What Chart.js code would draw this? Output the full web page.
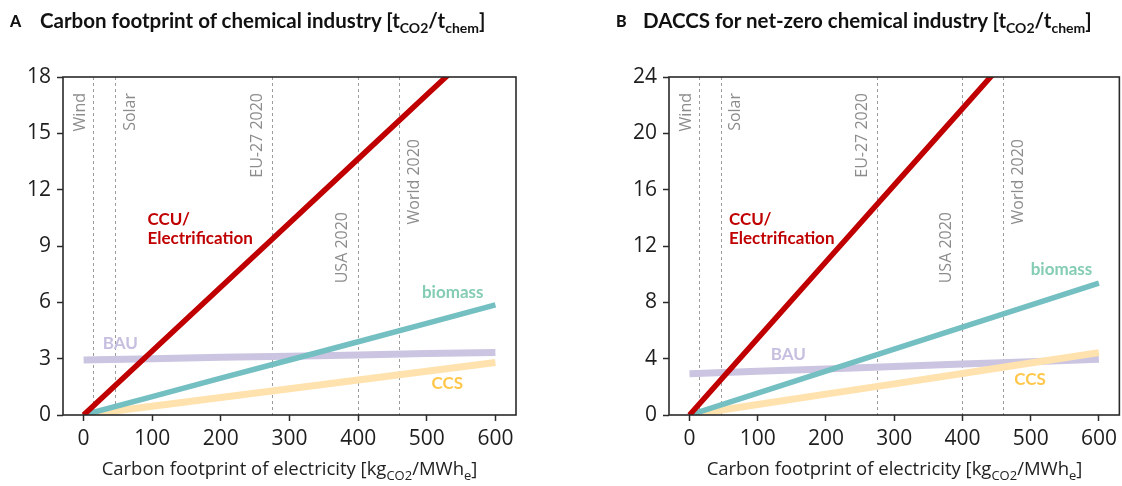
<!DOCTYPE html>
<html>
<head>
<meta charset="utf-8">
<script src="https://cdn.jsdelivr.net/npm/chart.js@4.4.1/dist/chart.umd.min.js"></script>
<style>
  html,body{margin:0;padding:0;background:#fff;}
  #wrap{position:relative;width:1122px;height:486px;overflow:hidden;}
  canvas{position:absolute;top:0;}
  .ttl{position:absolute;font-family:Lato,sans-serif;font-weight:700;font-size:20.5px;line-height:20px;color:#111;white-space:nowrap;}
  .ttl .sub{font-size:14px;position:relative;top:5px;}
  .letter{position:absolute;font-family:Lato,sans-serif;font-weight:900;font-size:16px;line-height:16px;color:#111;}
  .xt{position:absolute;font-family:"Open Sans",sans-serif;font-size:18.5px;line-height:18px;color:#222;text-align:center;white-space:nowrap;}
  .xt .sub{font-size:13px;position:relative;top:5px;}
</style>
</head>
<body>
<div id="wrap">
  <canvas id="cA" width="561" height="486" style="left:0;width:561px;height:486px"></canvas>
  <canvas id="cB" width="561" height="486" style="left:561px;width:561px;height:486px"></canvas>
  <div class="letter" style="left:10px;top:13px">A</div>
  <div class="ttl" style="left:40px;top:10px">Carbon footprint of chemical industry [t<span class="sub">CO2</span>/t<span class="sub">chem</span>]</div>
  <div class="letter" style="left:616px;top:13px">B</div>
  <div class="ttl" style="left:643px;top:10px">DACCS for net-zero chemical industry [t<span class="sub">CO2</span>/t<span class="sub">chem</span>]</div>
  <div class="xt" style="left:63px;width:453px;top:459px">Carbon footprint of electricity [kg<span class="sub">CO2</span>/MWh<span class="sub">e</span>]</div>
  <div class="xt" style="left:669px;width:451px;top:459px">Carbon footprint of electricity [kg<span class="sub">CO2</span>/MWh<span class="sub">e</span>]</div>
</div>
<script>
// ---------- data ----------
const xValues = [0, 100, 200, 300, 400, 500, 600];
const xTicks = [0, 100, 200, 300, 400, 500, 600];

// Panel A: carbon footprint of chemical industry [tCO2/tchem]
const ccuA     = [0, 3.41, 6.82, 10.23, 13.64, 17.05, 20.46];
const biomassA = [0, 0.98, 1.96, 2.93, 3.90, 4.88, 5.86];
const bauA     = [2.93, 3.00, 3.07, 3.13, 3.20, 3.27, 3.33];
const ccsA     = [0, 0.47, 0.93, 1.40, 1.86, 2.33, 2.80];
const yTicksA  = [0, 3, 6, 9, 12, 15, 18];

// Panel B: DACCS for net-zero chemical industry [tCO2/tchem]
const ccuB     = [0, 5.44, 10.88, 16.32, 21.76, 27.20, 32.64];
const biomassB = [0, 1.56, 3.12, 4.68, 6.24, 7.80, 9.36];
const bauB     = [2.93, 3.10, 3.27, 3.45, 3.62, 3.78, 3.95];
const ccsB     = [0, 0.74, 1.48, 2.21, 2.95, 3.69, 4.43];
const yTicksB  = [0, 4, 8, 12, 16, 20, 24];

// reference electricity footprints [kgCO2/MWhe]
const refNames  = ['Wind', 'Solar', 'EU-27 2020', 'USA 2020', 'World 2020'];
const refValues = [14, 46, 275, 400, 459];

// ---------- styles ----------
const refStyle = [
  {dx: -13, top: 16}, {dx: 15, top: 16}, {dx: -14.5, top: 16},
  {dx: -16, top: 135}, {dx: 16, top: 62}
];
const seriesStyle = {
  ccu:     {line: '#c00000', text: '#c00000', width: 5.5},
  biomass: {line: '#73bfc1', text: '#84ccb4', width: 5.5},
  bau:     {line: '#cbc5e2', text: '#c6bfe0', width: 7},
  ccs:     {line: '#ffe2ae', text: '#ffc84c', width: 7}
};

function pts(ys){ return xValues.map((x,i)=>({x:x, y:ys[i]})); }

const decor = {
  id: 'decor',
  beforeDatasetsDraw(chart){
    const {ctx, chartArea:a, scales:{x}} = chart;
    ctx.save();
    ctx.strokeStyle = '#9c9c9c'; ctx.lineWidth = 1; ctx.setLineDash([3,3]);
    refValues.forEach(v=>{
      const px = Math.round(x.getPixelForValue(v)) + 0.5;
      ctx.beginPath(); ctx.moveTo(px, a.top); ctx.lineTo(px, a.bottom); ctx.stroke();
    });
    ctx.setLineDash([]);
    ctx.fillStyle = '#8c8c8c'; ctx.font = '16px "Open Sans"';
    refValues.forEach((v,i)=>{
      const px = x.getPixelForValue(v) + refStyle[i].dx;
      ctx.save();
      ctx.translate(px, a.top + refStyle[i].top);
      ctx.rotate(-Math.PI/2);
      ctx.textAlign = 'right'; ctx.textBaseline = 'middle';
      ctx.fillText(refNames[i], 0, 0);
      ctx.restore();
    });
    ctx.restore();
  },
  afterDatasetsDraw(chart, args, opts){
    const {ctx, chartArea:a, scales:{x,y}} = chart;
    ctx.save();
    ctx.font = 'bold 17px Lato';
    ctx.textAlign = 'left'; ctx.textBaseline = 'alphabetic';
    (opts.labels||[]).forEach(l=>{
      ctx.fillStyle = l.color;
      ctx.fillText(l.text, x.getPixelForValue(l.x), y.getPixelForValue(l.y));
    });
    ctx.strokeStyle = '#2a2a2a'; ctx.lineWidth = 1.6;
    ctx.strokeRect(a.left, a.top, a.right - a.left, a.bottom - a.top);
    ctx.restore();
  }
};

function makeChart(id, series, yTicks, yMax, padRight, yWidth, labels){
  const mk = (key, data) => ({
    label: key, data: pts(data), borderColor: seriesStyle[key].line,
    borderWidth: seriesStyle[key].width, pointRadius: 0, tension: 0, fill: false
  });
  return new Chart(document.getElementById(id), {
    type: 'line',
    data: { datasets: [mk('ccu', series.ccu), mk('biomass', series.biomass), mk('ccs', series.ccs), mk('bau', series.bau)] },
    options: {
      responsive: false, animation: false, devicePixelRatio: 1,
      layout: { padding: {left: 0, right: padRight, top: 77, bottom: 0} },
      plugins: { legend: {display:false}, tooltip: {enabled:false}, decor: {labels: labels} },
      scales: {
        x: {
          type: 'linear', min: -30, max: 630,
          afterBuildTicks: s => { s.ticks = xTicks.map(v=>({value:v})); },
          afterFit: s => { s.height = 71; },
          grid: { display: true, drawOnChartArea: false, tickLength: 6, tickColor: '#2a2a2a', tickWidth: 1.5 },
          border: { display: false },
          ticks: { font: {family: 'Open Sans', size: 21}, color: '#1e1e1e', padding: 5, maxRotation: 0 }
        },
        y: {
          type: 'linear', min: 0, max: yMax,
          afterBuildTicks: s => { s.ticks = yTicks.map(v=>({value:v})); },
          afterFit: s => { s.width = yWidth; },
          grid: { display: true, drawOnChartArea: false, tickLength: 6, tickColor: '#2a2a2a', tickWidth: 1.5 },
          border: { display: false },
          ticks: { font: {family: 'Open Sans', size: 21}, color: '#1e1e1e', padding: 6 }
        }
      }
    },
    plugins: [decor]
  });
}

makeChart('cA', {ccu: ccuA, biomass: biomassA, bau: bauA, ccs: ccsA}, yTicksA, 18, 45, 63, [
  {text: 'CCU/', x: 93, y: 10.1, color: seriesStyle.ccu.text},
  {text: 'Electrification', x: 93, y: 9.1, color: seriesStyle.ccu.text},
  {text: 'biomass', x: 493, y: 6.25, color: seriesStyle.biomass.text},
  {text: 'BAU', x: 28, y: 3.52, color: seriesStyle.bau.text},
  {text: 'CCS', x: 507, y: 1.4, color: seriesStyle.ccs.text}
]);
makeChart('cB', {ccu: ccuB, biomass: biomassB, bau: bauB, ccs: ccsB}, yTicksB, 24, 2, 108, [
  {text: 'CCU/', x: 58, y: 13.5, color: seriesStyle.ccu.text},
  {text: 'Electrification', x: 58, y: 12.15, color: seriesStyle.ccu.text},
  {text: 'biomass', x: 500, y: 9.95, color: seriesStyle.biomass.text},
  {text: 'BAU', x: 119, y: 3.9, color: seriesStyle.bau.text},
  {text: 'CCS', x: 476, y: 2.13, color: seriesStyle.ccs.text}
]);
</script>
</body>
</html>
